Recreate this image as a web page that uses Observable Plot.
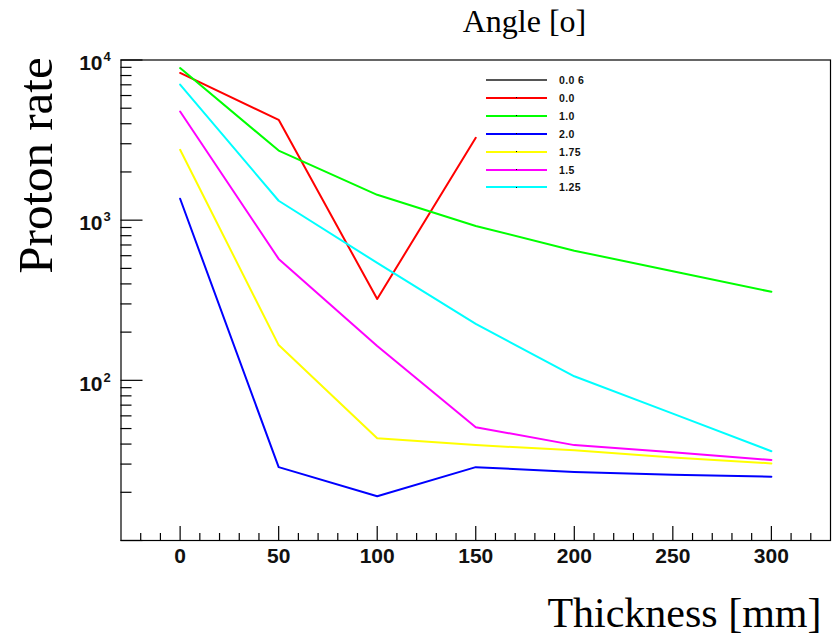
<!DOCTYPE html>
<html><head><meta charset="utf-8">
<script src="https://cdn.jsdelivr.net/npm/d3@7"></script>
<script src="https://cdn.jsdelivr.net/npm/@observablehq/plot@0.6"></script>
<style>
body{margin:0;background:#fff}
#wrap{position:relative;width:837px;height:638px;overflow:hidden}
#legend{position:absolute;left:486px;top:71px;font-family:"Liberation Sans",Arial,sans-serif;font-weight:bold;font-size:10.5px;color:#111}
.row{position:absolute;left:0;height:18px;width:120px}
.sw{position:absolute;left:0;top:8px;width:61px;height:2px}
.dot{position:absolute;left:30px;top:0;width:1px;height:1px;background:#000}
.lab{position:absolute;left:73px;top:3px;white-space:nowrap;letter-spacing:0.4px}
</style></head><body><div id="wrap"></div>
<script>
// ---- data ----
const thickness = [0, 50, 100, 150, 200, 250, 300];
const rate_0_0  = [8300, 4230, 322, 3270];
const rate_1_0  = [8900, 2720, 1440, 920, 645, 480, 357];
const rate_2_0  = [1360, 28.7, 18.9, 28.7, 26.8, 25.7, 25.0];
const rate_1_75 = [2750, 166, 43.5, 39.4, 36.6, 33.0, 30.3];
const rate_1_5  = [4770, 573, 164, 51, 39.4, 35.6, 31.8];
const rate_1_25 = [7020, 1322, 541, 225, 106, 62, 36.1];
const seriesNames  = ["0.0", "1.0", "2.0", "1.75", "1.5", "1.25"];
const seriesColors = ["#ff0000", "#00ff00", "#0000ff", "#ffff00", "#ff00ff", "#00ffff"];
const legendNames  = ["0.0 6", "0.0", "1.0", "2.0", "1.75", "1.5", "1.25"];
const legendColors = ["#555555", "#ff0000", "#00ff00", "#0000ff", "#ffff00", "#ff00ff", "#00ffff"];
const xMajorTicks = [0, 50, 100, 150, 200, 250, 300];
const xMinorTicks = [-20, -10, 10, 20, 30, 40, 60, 70, 80, 90, 110, 120, 130, 140, 160, 170, 180, 190, 210, 220, 230, 240, 260, 270, 280, 290, 310, 320];
const yMajorTicks = [10, 100, 1000, 10000];
const yMinorTicks = [20,30,40,50,60,70,80,90,200,300,400,500,600,700,800,900,2000,3000,4000,5000,6000,7000,8000,9000];
const yLabelValues = [100, 1000, 10000];
const yLabelExponents = ["2", "3", "4"];
const titleTop = "Angle [o]";
const titleY = "Proton rate";
const titleX = "Thickness [mm]";

// ---- build ----
const allSeries = [rate_0_0, rate_1_0, rate_2_0, rate_1_75, rate_1_5, rate_1_25];
const rows = [];
allSeries.forEach((vals, i) => vals.forEach((v, j) => rows.push({t: thickness[j], v, s: seriesNames[i]})));

const W = 837, H = 638, ML = 120.5, MT = 59.5, MR = 7, MB = 98;
const PH = H - MT - MB, PW = W - ML - MR;
const xDom = [-30, 330];

const sans = "'Liberation Sans', Arial, sans-serif";
const serif = "'Liberation Serif', 'Times New Roman', serif";

const chart = Plot.plot({
  width: W, height: H,
  marginLeft: ML, marginTop: MT, marginRight: MR, marginBottom: MB,
  x: {domain: xDom, axis: null},
  y: {type: "log", domain: [10, 10000], axis: null},
  color: {domain: seriesNames, range: seriesColors},
  style: {background: "white", overflow: "visible"},
  marks: [
    Plot.line(rows, {x: "t", y: "v", z: "s", stroke: "s", strokeWidth: 2}),
    Plot.tickX(xMajorTicks, {x: d => d, insetTop: PH - 14, stroke: "black", strokeWidth: 1.2}),
    Plot.tickX(xMinorTicks, {x: d => d, insetTop: PH - 7, stroke: "black", strokeWidth: 1.2}),
    Plot.tickY(yMajorTicks, {y: d => d, insetRight: PW - 22, stroke: "black", strokeWidth: 1.2}),
    Plot.tickY(yMinorTicks, {y: d => d, insetRight: PW - 11, stroke: "black", strokeWidth: 1.2}),
    Plot.frame({stroke: "black", strokeWidth: 1.2}),
    Plot.text(xMajorTicks, {x: d => d, frameAnchor: "bottom", lineAnchor: "middle", dy: 15.5, text: d => String(d), fontWeight: "bold", fontSize: 21, fontFamily: sans, fill: "#111"}),
    Plot.text(yLabelValues, {y: d => d, frameAnchor: "left", lineAnchor: "middle", dx: -18.5, dy: 3.5, textAnchor: "end", text: () => "10", fontWeight: "bold", fontSize: 21, fontFamily: sans, fill: "#111"}),
    Plot.text(yLabelValues, {y: d => d, frameAnchor: "left", lineAnchor: "middle", dx: -17.5, dy: -3, textAnchor: "start", text: (d, i) => yLabelExponents[i], fontWeight: "bold", fontSize: 13, fontFamily: sans, fill: "#111"}),
    Plot.text([titleTop], {frameAnchor: "top-left", lineAnchor: "middle", dx: 524 - ML, dy: 21 - MT, text: d => d, textAnchor: "middle", fontSize: 32, fontFamily: serif, fill: "black"}),
    Plot.text([titleY], {frameAnchor: "top-left", lineAnchor: "middle", dx: 36 - ML, dy: 165 - MT, text: d => d, rotate: -90, textAnchor: "middle", fontSize: 49, fontFamily: serif, fill: "black"}),
    Plot.text([titleX], {frameAnchor: "top-left", lineAnchor: "middle", dx: 821 - ML, dy: 613.5 - MT, text: d => d, textAnchor: "end", fontSize: 42, fontFamily: serif, fill: "black"})
  ]
});
const wrap = document.getElementById("wrap");
wrap.appendChild(chart);

// legend
const leg = document.createElement("div");
leg.id = "legend";
legendNames.forEach((name, i) => {
  const r = document.createElement("div");
  r.className = "row";
  r.style.top = (i * 17.9) + "px";
  const sw = document.createElement("div");
  sw.className = "sw";
  sw.style.background = legendColors[i];
  if (i === 0) { sw.style.height = "1.5px"; }
  else { const d = document.createElement("div"); d.className = "dot"; d.style.top = "0.5px"; sw.appendChild(d); }
  const lab = document.createElement("div");
  lab.className = "lab";
  lab.textContent = name;
  r.appendChild(sw); r.appendChild(lab);
  leg.appendChild(r);
});
wrap.appendChild(leg);
</script>
</body></html>
